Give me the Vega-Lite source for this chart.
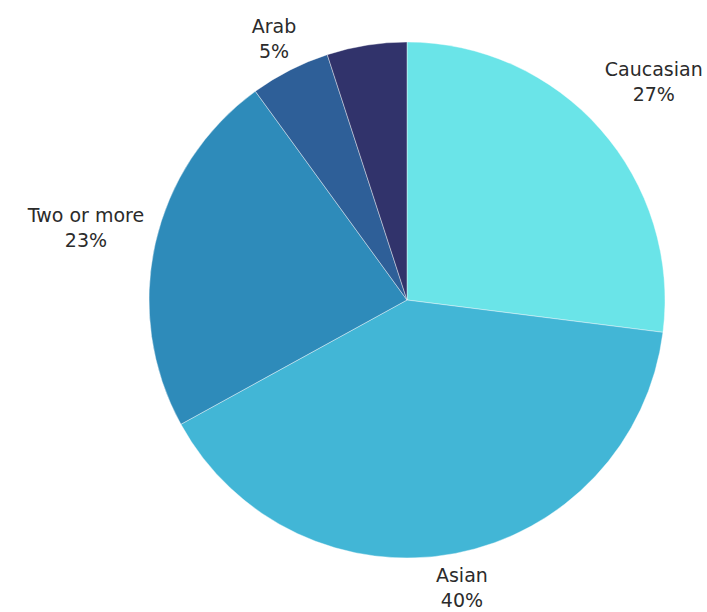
{
  "$schema": "https://vega.github.io/schema/vega-lite/v6.json",
  "width": 516,
  "height": 516,
  "autosize": {"type": "none"},
  "padding": {"left": 149, "top": 42, "right": 42, "bottom": 54},
  "background": "white",
  "config": {"view": {"stroke": null}},
  "data": {
    "values": [
      {"group": "Caucasian", "pct": 27, "label": "27%", "order": 1, "side": "h"},
      {"group": "Asian", "pct": 40, "label": "40%", "order": 2, "side": "v"},
      {"group": "Two or more", "pct": 23, "label": "23%", "order": 3, "side": "h"},
      {"group": "Arab", "pct": 5, "label": "5%", "order": 4, "side": "v"},
      {"group": "Other", "pct": 5, "label": "", "order": 5, "side": "none"}
    ]
  },
  "encoding": {
    "theta": {"field": "pct", "type": "quantitative", "stack": true},
    "order": {"field": "order", "type": "quantitative"}
  },
  "layer": [
    {
      "mark": {"type": "arc", "stroke": "white", "strokeWidth": 0.4},
      "encoding": {
        "color": {
          "field": "group",
          "type": "nominal",
          "legend": null,
          "scale": {
            "domain": ["Caucasian", "Asian", "Two or more", "Arab", "Other"],
            "range": ["#6ae4e8", "#42b6d6", "#2e8bba", "#2e5f98", "#31336b"]
          }
        }
      }
    },
    {
      "mark": {"type": "text", "radius": 329, "dy": -12, "font": "DejaVu Sans", "fontSize": 19, "color": "#2b2b2b", "baseline": "middle", "align": "center"},
      "encoding": {"text": {"condition": {"test": "datum.side == 'h'", "field": "group"}, "value": ""}}
    },
    {
      "mark": {"type": "text", "radius": 329, "dy": 13, "font": "DejaVu Sans", "fontSize": 19, "color": "#2b2b2b", "baseline": "middle", "align": "center"},
      "encoding": {"text": {"condition": {"test": "datum.side == 'h'", "field": "label"}, "value": ""}}
    },
    {
      "mark": {"type": "text", "radius": 293, "dy": -12, "font": "DejaVu Sans", "fontSize": 19, "color": "#2b2b2b", "baseline": "middle", "align": "center"},
      "encoding": {"text": {"condition": {"test": "datum.side == 'v'", "field": "group"}, "value": ""}}
    },
    {
      "mark": {"type": "text", "radius": 293, "dy": 13, "font": "DejaVu Sans", "fontSize": 19, "color": "#2b2b2b", "baseline": "middle", "align": "center"},
      "encoding": {"text": {"condition": {"test": "datum.side == 'v'", "field": "label"}, "value": ""}}
    }
  ]
}
